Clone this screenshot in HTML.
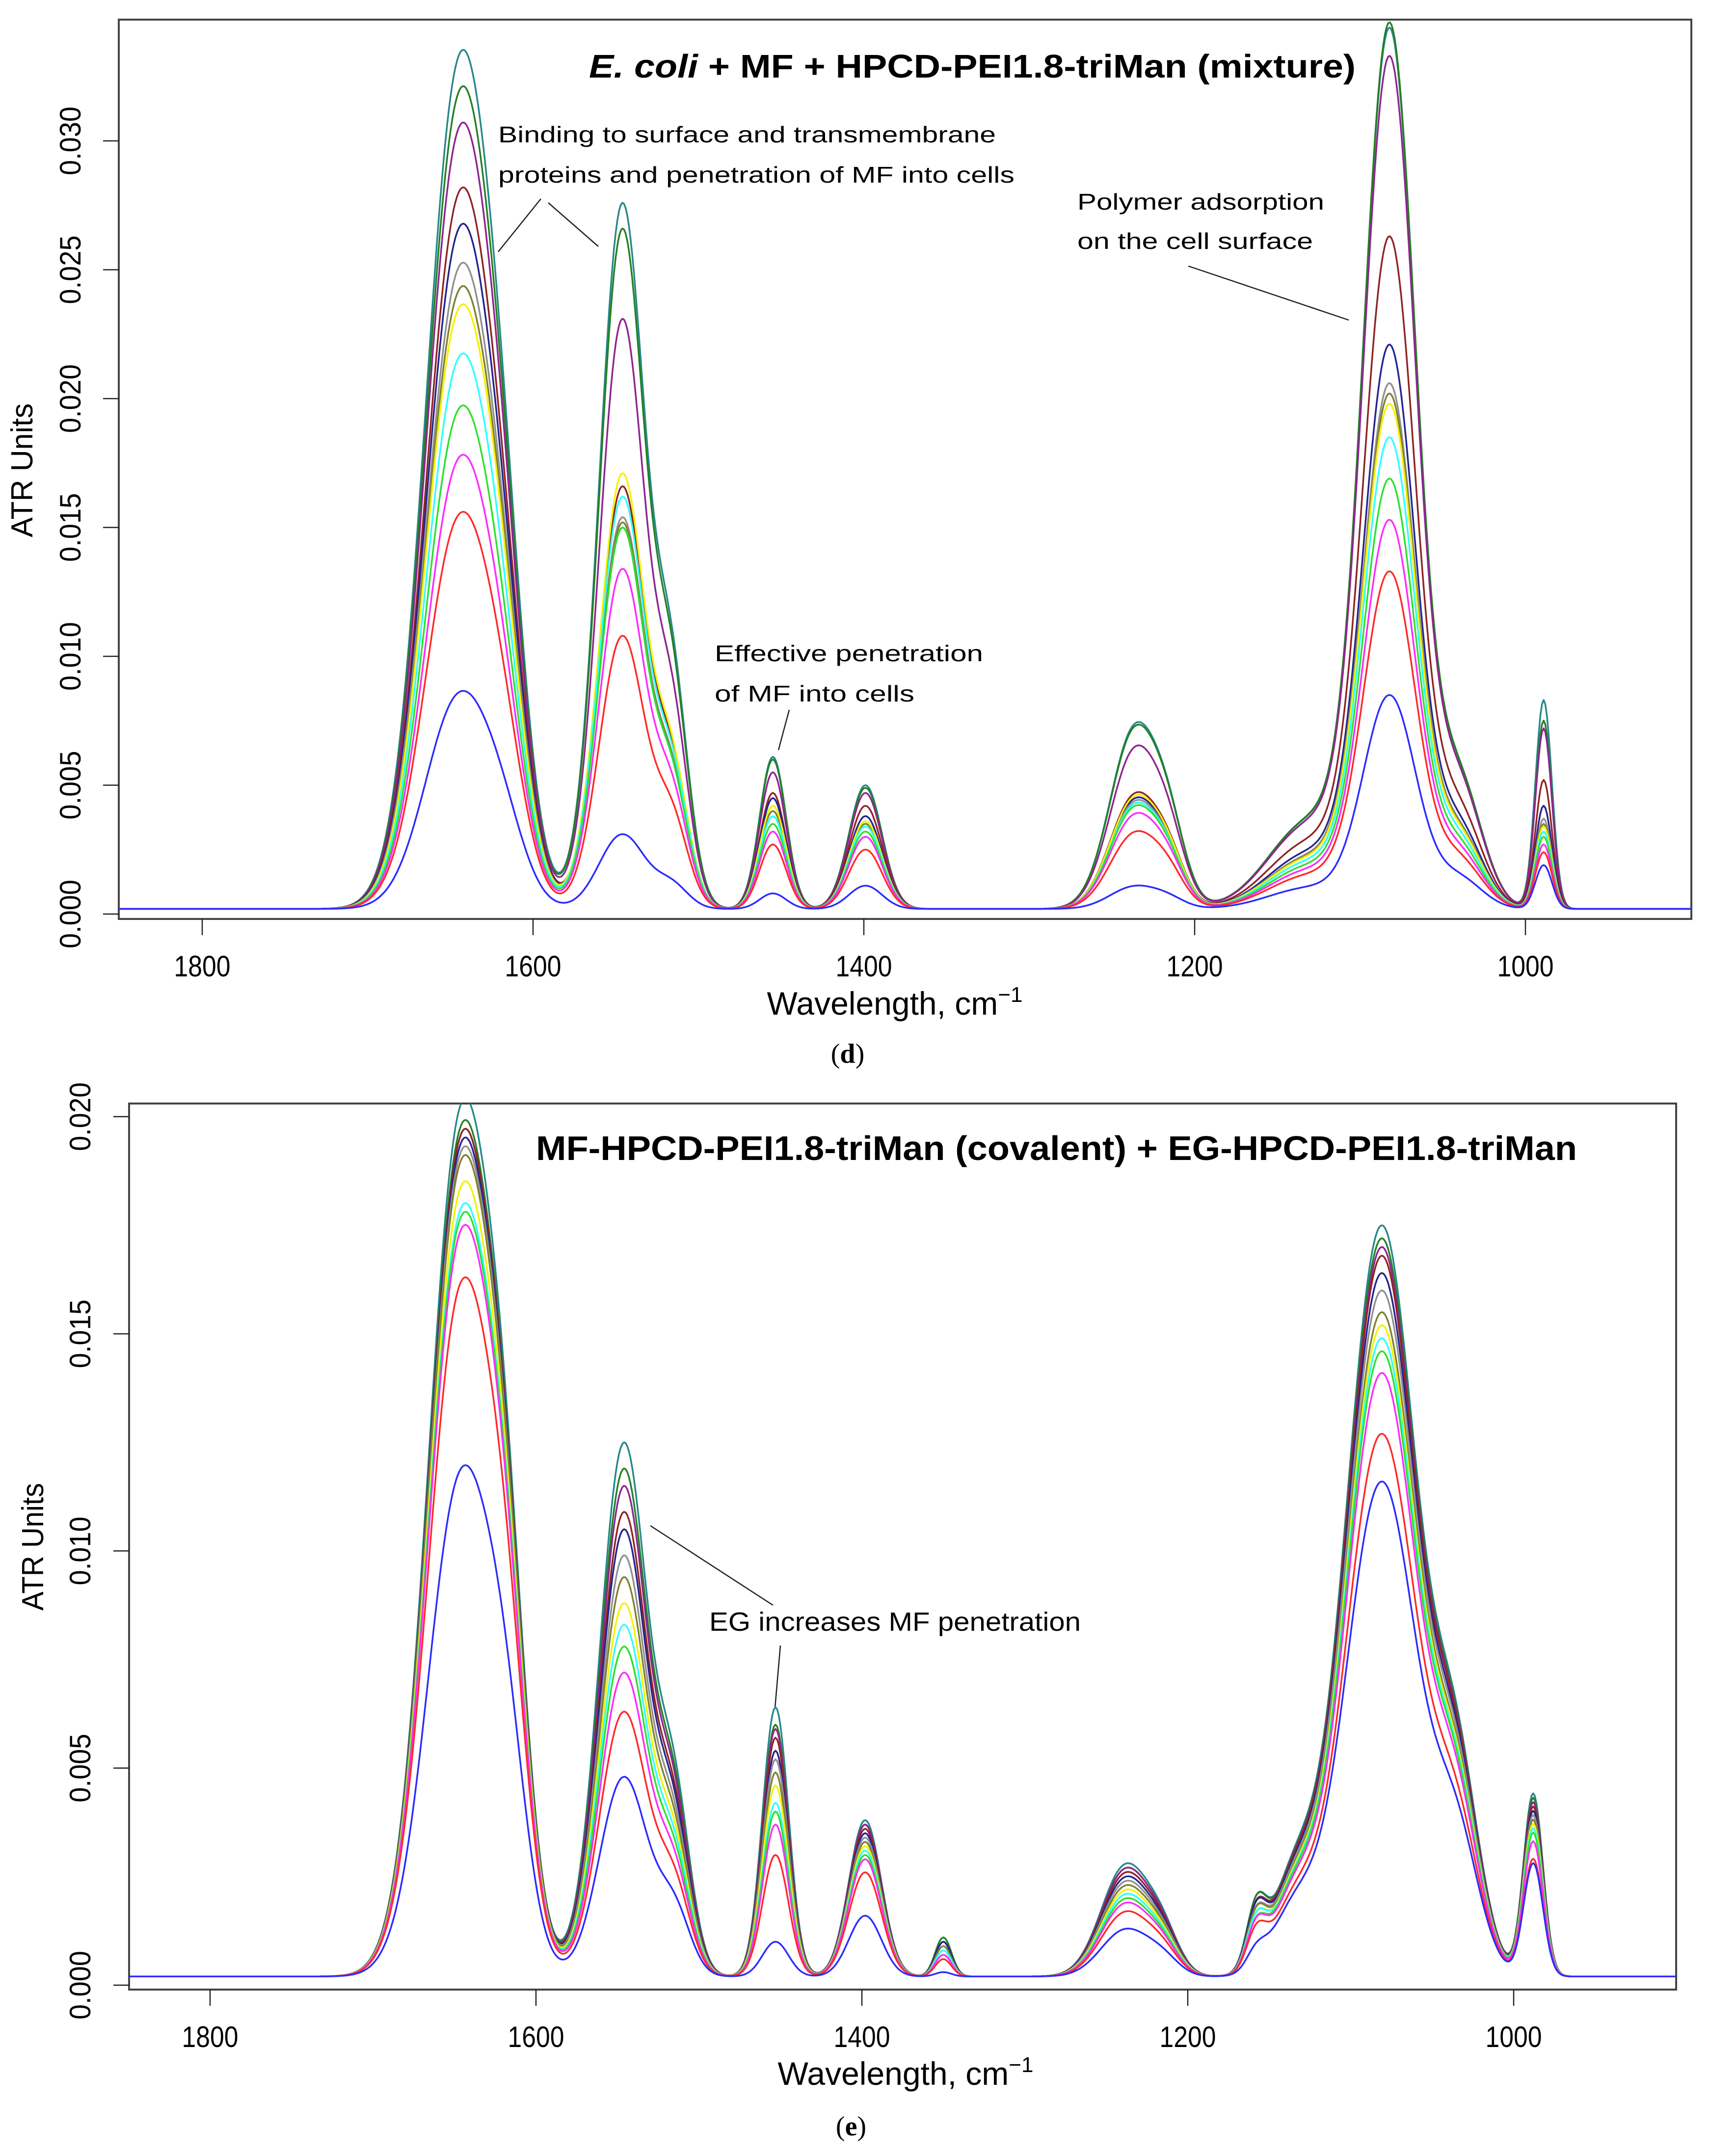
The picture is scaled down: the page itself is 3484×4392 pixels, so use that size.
<!DOCTYPE html>
<html><head><meta charset="utf-8"><title>ATR spectra</title>
<style>
html,body{margin:0;padding:0;background:#fff;}
svg{display:block;}
text{font-family:"Liberation Sans",Arial,sans-serif;fill:#000;}
</style></head>
<body>
<svg id="fig" width="3484" height="4392" viewBox="0 0 3484 4392" xmlns="http://www.w3.org/2000/svg">
<defs>
<clipPath id="clipD"><rect x="242" y="40" width="3204" height="1832"/></clipPath>
<clipPath id="clipE"><rect x="263" y="2248" width="3152" height="1805"/></clipPath>
</defs>
<g id="panelD">
<rect x="242" y="40" width="3204" height="1832" fill="none" stroke="#444" stroke-width="4"/>
<text x="1200" y="158" font-size="67" font-weight="bold" textLength="1562" lengthAdjust="spacingAndGlyphs"><tspan font-style="italic">E. coli</tspan>  + MF + HPCD-PEI1.8-triMan (mixture)</text>
<text x="1015" y="290" font-size="46" textLength="1014" lengthAdjust="spacingAndGlyphs">Binding to surface and transmembrane</text>
<text x="1015" y="372" font-size="46" textLength="1052" lengthAdjust="spacingAndGlyphs">proteins and penetration of MF into cells</text>
<line x1="1015" y1="513" x2="1102" y2="405" stroke="#222" stroke-width="2.5"/>
<line x1="1117" y1="413" x2="1219" y2="502" stroke="#222" stroke-width="2.5"/>
<text x="2195" y="427" font-size="46" textLength="503" lengthAdjust="spacingAndGlyphs">Polymer adsorption</text>
<text x="2195" y="507" font-size="46" textLength="480" lengthAdjust="spacingAndGlyphs">on the cell surface</text>
<line x1="2421" y1="542" x2="2748" y2="652" stroke="#222" stroke-width="2.5"/>
<text x="1456" y="1347" font-size="46" textLength="547" lengthAdjust="spacingAndGlyphs">Effective penetration</text>
<text x="1456" y="1429" font-size="46" textLength="407" lengthAdjust="spacingAndGlyphs">of MF into cells</text>
<line x1="1608" y1="1446" x2="1586" y2="1528" stroke="#222" stroke-width="2.5"/>
<text x="0" y="0" font-size="62" text-anchor="middle" textLength="273" lengthAdjust="spacingAndGlyphs" transform="translate(66,958) rotate(-90)">ATR Units</text>
<text x="1823" y="2067" font-size="66" text-anchor="middle">Wavelength, cm<tspan dy="-26" font-size="44">−1</tspan></text>
<text x="1727" y="2165" font-size="56" text-anchor="middle" style="font-family:'Liberation Serif',serif">(<tspan font-weight="bold">d</tspan>)</text>
<g id="ticksD"></g>
<g id="linesD" clip-path="url(#clipD)"></g>
</g>
<g id="panelE">
<rect x="263" y="2248" width="3152" height="1805" fill="none" stroke="#444" stroke-width="4"/>
<text x="1092" y="2363" font-size="70" font-weight="bold" textLength="2121" lengthAdjust="spacingAndGlyphs">MF-HPCD-PEI1.8-triMan (covalent) + EG-HPCD-PEI1.8-triMan</text>
<text x="1445" y="3322" font-size="54" textLength="757" lengthAdjust="spacingAndGlyphs">EG increases MF penetration</text>
<line x1="1325" y1="3108" x2="1575" y2="3270" stroke="#222" stroke-width="2.5"/>
<line x1="1590" y1="3352" x2="1579" y2="3479" stroke="#222" stroke-width="2.5"/>
<text x="0" y="0" font-size="62" text-anchor="middle" textLength="260" lengthAdjust="spacingAndGlyphs" transform="translate(88,3151) rotate(-90)">ATR Units</text>
<text x="1845" y="4247" font-size="66" text-anchor="middle">Wavelength, cm<tspan dy="-26" font-size="44">−1</tspan></text>
<text x="1734" y="4350" font-size="56" text-anchor="middle" style="font-family:'Liberation Serif',serif">(<tspan font-weight="bold">e</tspan>)</text>
<g id="ticksE"></g>
<g id="linesE" clip-path="url(#clipE)"></g>
</g>
</svg>
<script>
// ---------- shared ----------
const seriesColors = ["#2b2bff","#ff2a2a","#ff2bff","#2ee02e","#2effff","#f2f200","#808030","#909090","#242490","#902424","#902490","#248024","#268888"];
const seriesNames = ["blue","red","magenta","green","cyan","yellow","olive","gray","navy","darkred","purple","darkgreen","teal"];
const xTicks = [1800,1600,1400,1200,1000];
const xTickLabels = ["1800","1600","1400","1200","1000"];

// ---------- panel d values (peak heights, ATR units), series order as seriesNames ----------
const dAmideI   = [0.0084,0.0153,0.0175,0.0194,0.0214,0.0233,0.0240,0.0249,0.0264,0.0278,0.0303,0.0317,0.0331];
const dAmideII  = [0.0029,0.0106,0.0132,0.0148,0.0160,0.0169,0.0150,0.0152,0.0148,0.0164,0.0229,0.0264,0.0274];
const d1455     = [0.0006,0.0025,0.0030,0.0033,0.0036,0.0040,0.0038,0.0040,0.0043,0.0045,0.0053,0.0058,0.0059];
const d1400     = [0.0009,0.0023,0.0028,0.0030,0.0032,0.0034,0.0033,0.0034,0.0036,0.0040,0.0045,0.0047,0.0048];
const d1240     = [0.0009,0.0030,0.0037,0.0040,0.0041,0.0044,0.0041,0.0042,0.0043,0.0045,0.0063,0.0071,0.0072];
const d1085     = [0.0083,0.0131,0.0151,0.0167,0.0183,0.0196,0.0200,0.0204,0.0219,0.0261,0.0331,0.0344,0.0342];
const d990      = [0.0017,0.0022,0.0025,0.0028,0.0030,0.0032,0.0033,0.0035,0.0040,0.0050,0.0070,0.0073,0.0081];
const dYTicks = [0,0.005,0.010,0.015,0.020,0.025,0.030];
const dYTickLabels = ["0.000","0.005","0.010","0.015","0.020","0.025","0.030"];

// ---------- panel e values ----------
const eAmideI   = [0.0117,0.0160,0.0172,0.0175,0.0177,0.0182,0.0188,0.0190,0.0192,0.0194,0.0194,0.0196,0.0201];
const eAmideII  = [0.0046,0.0061,0.0070,0.0076,0.0081,0.0086,0.0092,0.0097,0.0103,0.0107,0.0113,0.0117,0.0123];
const e1455     = [0.0008,0.0028,0.0035,0.0038,0.0040,0.0044,0.0047,0.0050,0.0052,0.0055,0.0057,0.0058,0.0062];
const e1400     = [0.0014,0.0024,0.0027,0.0028,0.0029,0.0030,0.0031,0.0032,0.0033,0.0034,0.0035,0.0035,0.0036];
const e1350     = [0.0001,0.0004,0.0005,0.0005,0.0006,0.0006,0.0007,0.0007,0.0008,0.0008,0.0008,0.0009,0.0009];
const e1240     = [0.0011,0.0015,0.0017,0.0018,0.0019,0.0020,0.0021,0.0022,0.0023,0.0024,0.0025,0.0025,0.0026];
const e1160     = [0.0004,0.0008,0.0009,0.0009,0.0010,0.0010,0.0011,0.0011,0.0012,0.0012,0.0012,0.0013,0.0013];
const e1085     = [0.0114,0.0125,0.0139,0.0144,0.0147,0.0150,0.0153,0.0158,0.0162,0.0166,0.0168,0.0170,0.0173];
const e990      = [0.0026,0.0027,0.0031,0.0033,0.0034,0.0035,0.0036,0.0037,0.0038,0.0039,0.0040,0.0041,0.0042];
const eYTicks = [0,0.005,0.010,0.015,0.020];
const eYTickLabels = ["0.000","0.005","0.010","0.015","0.020"];

const NS = "http://www.w3.org/2000/svg";
function g(w,c,s){const t=(w-c)/s;return Math.exp(-0.5*t*t);}

function makeAxes(ax){
  ax.x = w => ax.x1800 + (1800 - w) * ax.pxPer;
  ax.y = v => ax.y0 - v * ax.pyPer;
  return ax;
}
const axD = makeAxes({x1800:412, pxPer:3.37, y0:1862, pyPer:52500, left:242, bottom:1872, lblX:142});
const axE = makeAxes({x1800:428, pxPer:3.32, y0:4044, pyPer:88460, left:263, bottom:4053, lblX:162});

// peak shapes: [amplitudeArray, centre, width, extra shoulders [rel, centre, width]]
const dPeaks = [
  [dAmideI,1645,20,[[0.25,1618,14]]],
  [dAmideII,1546,14,[[0.3,1516,10]]],
  [d1455,1455,8,[]],
  [d1400,1399,10,[]],
  [d1240,1236,15,[[0.3,1215,10]]],
  [d1085,1082,16,[[0.10,1130,25],[0.14,1040,14]]],
  [d990,989,5,[]]
];
const ePeaks = [
  [eAmideI,1646,20,[[0.3,1618,13]]],
  [eAmideII,1546,15,[[0.3,1515,10]]],
  [e1455,1453,8,[]],
  [e1400,1398,10,[]],
  [e1350,1350,5,[]],
  [e1240,1238,15,[[0.3,1215,10]]],
  [e1160,1158,6,[]],
  [e1085,1081,22,[[0.25,1035,14],[0.12,1135,14]]],
  [e990,988,6,[]]
];

function drawTicks(gid, ax, yTicks, yLabels, lenX){
  const grp = document.getElementById(gid);
  xTicks.forEach((w,i)=>{
    const X = ax.x(w);
    const ln = document.createElementNS(NS,"line");
    ln.setAttribute("x1",X);ln.setAttribute("x2",X);ln.setAttribute("y1",ax.bottom);ln.setAttribute("y2",ax.bottom+33);
    ln.setAttribute("stroke","#222");ln.setAttribute("stroke-width","2.5");
    
    
    grp.appendChild(ln);
    const t = document.createElementNS(NS,"text");
    t.setAttribute("x",X);t.setAttribute("y",ax.bottom+117);t.setAttribute("font-size","60");
    t.setAttribute("text-anchor","middle");t.setAttribute("textLength",lenX);t.setAttribute("lengthAdjust","spacingAndGlyphs");
    t.textContent = xTickLabels[i];
    
    
    grp.appendChild(t);
  });
  yTicks.forEach((v,i)=>{
    const Y = ax.y(v);
    const ln = document.createElementNS(NS,"line");
    ln.setAttribute("x1",ax.left-32);ln.setAttribute("x2",ax.left);ln.setAttribute("y1",Y);ln.setAttribute("y2",Y);
    ln.setAttribute("stroke","#222");ln.setAttribute("stroke-width","2.5");
    
    
    grp.appendChild(ln);
    const t = document.createElementNS(NS,"text");
    t.setAttribute("x",0);t.setAttribute("y",0);t.setAttribute("font-size","60");
    t.setAttribute("text-anchor","middle");t.setAttribute("textLength","140");t.setAttribute("lengthAdjust","spacingAndGlyphs");
    t.setAttribute("transform","translate("+(ax.lblX+22)+","+Y+") rotate(-90)");
    t.textContent = yLabels[i];
    
    
    grp.appendChild(t);
  });
}

function drawSeries(gid, ax, peaks, panel){
  const grp = document.getElementById(gid);
  // normalisation so that the apex equals the read peak height
  const norms = peaks.map(p=>{let n=1;p[3].forEach(sh=>{n+=sh[0]*g(p[1],sh[1],sh[2]);});return n;});
  for(let s=seriesColors.length-1; s>=0; s--){
    let d="";
    for(let w=1860; w>=890; w-=1){
      let v=0.0002;
      peaks.forEach((p,k)=>{
        const a=p[0][s]/norms[k];
        v += a*g(w,p[1],p[2]);
        p[3].forEach(sh=>{ v += a*sh[0]*g(w,sh[1],sh[2]); });
      });
      d += (d?"L":"M")+ax.x(w).toFixed(1)+","+ax.y(v).toFixed(1);
    }
    const path=document.createElementNS(NS,"path");
    path.setAttribute("d",d);path.setAttribute("fill","none");
    path.setAttribute("stroke",seriesColors[s]);path.setAttribute("stroke-width","3.5");
    path.setAttribute("stroke-linejoin","round");
    
    
    grp.appendChild(path);
  }
}

drawTicks("ticksD", axD, dYTicks, dYTickLabels, 115);
drawTicks("ticksE", axE, eYTicks, eYTickLabels, 115);
drawSeries("linesD", axD, dPeaks, "d");
drawSeries("linesE", axE, ePeaks, "e");
</script>
</body></html>
